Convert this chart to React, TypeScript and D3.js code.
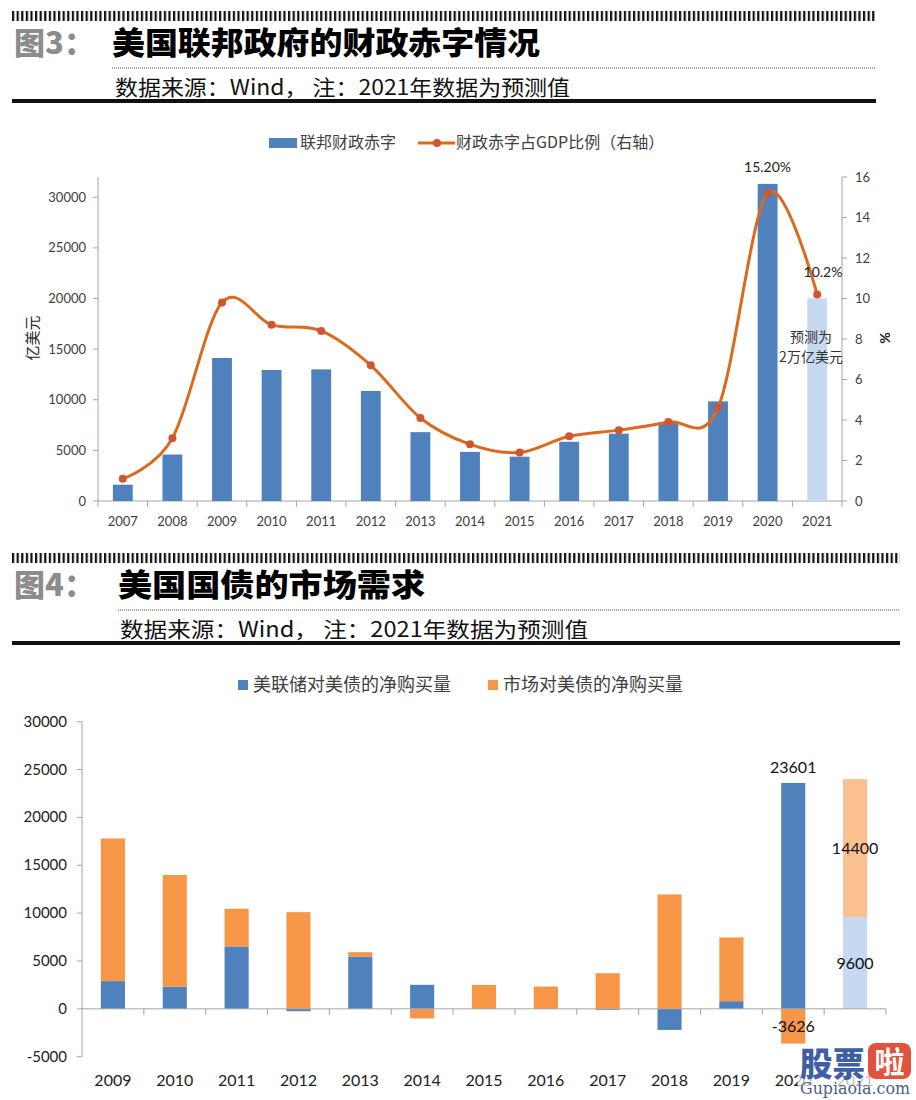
import React from "react";
import * as d3 from "d3";

// ---------- Chart 1 data ----------
const years1 = ["2007","2008","2009","2010","2011","2012","2013","2014","2015","2016","2017","2018","2019","2020","2021"];
const deficit = [1610, 4590, 14130, 12940, 13000, 10870, 6800, 4850, 4380, 5850, 6650, 7790, 9840, 31320, 20000];
const gdpRatio = [1.1, 3.1, 9.8, 8.7, 8.4, 6.7, 4.1, 2.8, 2.4, 3.2, 3.5, 3.9, 4.6, 15.2, 10.2];
const leftTicks1 = [0, 5000, 10000, 15000, 20000, 25000, 30000];
const rightTicks1 = [0, 2, 4, 6, 8, 10, 12, 14, 16];

// ---------- Chart 2 data ----------
const years2 = ["2009","2010","2011","2012","2013","2014","2015","2016","2017","2018","2019","2020","2021"];
const fedBuy = [2900, 2330, 6520, -250, 5470, 2510, 0, 0, -100, -2200, 800, 23601, 9600];
const marketBuy = [14900, 11650, 3940, 10100, 450, -1000, 2500, 2330, 3720, 11950, 6660, -3626, 14400];
const ticks2 = [-5000, 0, 5000, 10000, 15000, 20000, 25000, 30000];

const CJK = "'Noto Sans CJK SC', 'Noto Sans', sans-serif";
const NUM = "Lato, 'Open Sans', sans-serif";

const BLUE = "#4f81bd";
const LBLUE = "#c6d9f1";
const ORANGE = "#f79646";
const LORANGE = "#fac090";
const AXIS = "#a6a6a6";
const TXT = "#404040";

function Header({ y0, right, num, title, titleLen, titleX, subX, subLen }: any) {
  const pid = "hatch" + num;
  return (
    <g>
      <defs>
        <pattern id={pid} width={4.6} height={12} patternUnits="userSpaceOnUse" x={12}>
          <rect x={0} y={0} width={2.2} height={12} fill="#111" />
        </pattern>
      </defs>
      <rect x={12} y={y0} width={right - 12} height={10} fill={`url(#${pid})`} />
      <text x={14} y={y0 + 43} fontFamily={CJK} fontWeight={900} fontSize={31} fill="#8c8c8c">{`图${num}：`}</text>
      <text x={titleX} y={y0 + 43} fontFamily={CJK} fontWeight={900} fontSize={31} fill="#000"
        textLength={titleLen} lengthAdjust="spacingAndGlyphs">{title}</text>
      <line x1={titleX} x2={right} y1={y0 + 57} y2={y0 + 57} stroke="#555" strokeWidth={1} strokeDasharray="1 1" />
      <text x={subX} y={y0 + 84} fontFamily={CJK} fontWeight={400} fontSize={21} fill="#111"
        textLength={subLen} lengthAdjust="spacingAndGlyphs">数据来源：Wind， 注：2021年数据为预测值</text>
      <rect x={12} y={y0 + 88} width={right - 12} height={4} fill="#111" />
    </g>
  );
}

function Chart1() {
  const x = d3.scaleBand().domain(years1).range([98, 842]).padding(0);
  const yL = d3.scaleLinear().domain([0, 32000]).range([501, 177]);
  const yR = d3.scaleLinear().domain([0, 16]).range([501, 177]);
  const bw = x.bandwidth();
  const barW = bw * 0.4;
  const line = d3.line<number>()
    .x((_, i) => (x(years1[i]) as number) + bw / 2)
    .y((d) => yR(d))
    .curve(d3.curveCardinal.tension(0));
  const last = years1.length - 1;
  return (
    <g>
      {/* legend */}
      <rect x={269} y={138} width={28} height={10} fill={BLUE} />
      <text x={300} y={148} fontFamily={CJK} fontSize={16} fill={TXT}>联邦财政赤字</text>
      <line x1={418} x2={455} y1={143} y2={143} stroke="#db6a1f" strokeWidth={3} />
      <circle cx={437} cy={143} r={4} fill="#cf5630" />
      <text x={456} y={148} fontFamily={CJK} fontSize={16} fill={TXT}>财政赤字占GDP比例（右轴）</text>

      {/* axes */}
      <line x1={98} x2={98} y1={177} y2={501} stroke={AXIS} />
      <line x1={842} x2={842} y1={177} y2={501} stroke={AXIS} />
      <line x1={98} x2={842} y1={501} y2={501} stroke={AXIS} />
      {leftTicks1.map((t) => (
        <g key={"l" + t}>
          <line x1={93} x2={98} y1={yL(t)} y2={yL(t)} stroke={AXIS} />
          <text x={86} y={yL(t) + 4.5} textAnchor="end" fontFamily={NUM} fontSize={13} fill={TXT}>{t}</text>
        </g>
      ))}
      {rightTicks1.map((t) => (
        <g key={"r" + t}>
          <line x1={842} x2={847} y1={yR(t)} y2={yR(t)} stroke={AXIS} />
          <text x={855} y={yR(t) + 4.5} fontFamily={NUM} fontSize={13} fill={TXT}>{t}</text>
        </g>
      ))}
      {years1.map((yr) => (
        <line key={"t" + yr} x1={x(yr)} x2={x(yr)} y1={501} y2={507} stroke={AXIS} />
      ))}
      <line x1={842} x2={842} y1={501} y2={507} stroke={AXIS} />
      {years1.map((yr) => (
        <text key={"x" + yr} x={(x(yr) as number) + bw / 2} y={526} textAnchor="middle" fontFamily={NUM} fontSize={13} fill={TXT}>{yr}</text>
      ))}
      <text transform="translate(38,338) rotate(-90)" textAnchor="middle" fontFamily={CJK} fontSize={15} fill="#222">亿美元</text>
      <text transform="translate(880,338) rotate(90)" textAnchor="middle" fontFamily={NUM} fontWeight={700} fontSize={14} fill="#222">%</text>

      {/* bars */}
      {deficit.map((v, i) => (
        <rect key={"b" + i} x={(x(years1[i]) as number) + (bw - barW) / 2} y={yL(v)} width={barW}
          height={yL(0) - yL(v)} fill={i === last ? LBLUE : BLUE} />
      ))}
      {/* line */}
      <path d={line(gdpRatio) || ""} fill="none" stroke="#db6a1f" strokeWidth={3} />
      {gdpRatio.map((v, i) => (
        <circle key={"c" + i} cx={(x(years1[i]) as number) + bw / 2} cy={yR(v)} r={4} fill="#cf5630" />
      ))}
      {/* annotations */}
      <text x={(x("2020") as number) + bw / 2} y={172} textAnchor="middle" fontFamily={NUM} fontSize={14} fill="#222">15.20%</text>
      <text x={823} y={277} textAnchor="middle" fontFamily={NUM} fontSize={14} fill="#222">10.2%</text>
      <text x={811} y={342} textAnchor="middle" fontFamily={CJK} fontSize={14} fill="#333">预测为</text>
      <text x={811} y={362} textAnchor="middle" fontFamily={CJK} fontSize={14} fill="#333">2万亿美元</text>
    </g>
  );
}

function Chart2() {
  const x = d3.scaleBand().domain(years2).range([82, 886]).padding(0);
  const y = d3.scaleLinear().domain([-5000, 30000]).range([1056.7, 721.7]);
  const bw = x.bandwidth();
  const barW = bw * 0.39;
  const rows = years2.map((yr, i) => ({ year: yr, fed: fedBuy[i], market: marketBuy[i] }));
  const series = d3.stack<any>().keys(["fed", "market"]).offset(d3.stackOffsetDiverging)(rows);
  const last = years2.length - 1;
  const colors: any = { fed: [BLUE, LBLUE], market: [ORANGE, LORANGE] };
  const cx = (yr: string) => (x(yr) as number) + bw / 2;
  return (
    <g>
      {/* legend */}
      <rect x={238} y={680} width={10} height={10} fill={BLUE} />
      <text x={253} y={691} fontFamily={CJK} fontSize={18} fill={TXT}>美联储对美债的净购买量</text>
      <rect x={488} y={680} width={10} height={10} fill={ORANGE} />
      <text x={503} y={691} fontFamily={CJK} fontSize={18} fill={TXT}>市场对美债的净购买量</text>

      {/* axes */}
      <line x1={82} x2={82} y1={721.7} y2={1056.7} stroke={AXIS} />
      {ticks2.map((t) => (
        <g key={"t" + t}>
          <line x1={77} x2={82} y1={y(t)} y2={y(t)} stroke={AXIS} />
          <text x={67} y={y(t) + 5} textAnchor="end" fontFamily={NUM} fontSize={15} fill="#222">{t}</text>
        </g>
      ))}

      {/* bars */}
      {series.map((s) =>
        s.map((d, i) => {
          const y0 = Math.min(y(d[0]), y(d[1]));
          const h = Math.abs(y(d[0]) - y(d[1]));
          return (
            <rect key={s.key + i} x={cx(years2[i]) - barW / 2} y={y0} width={barW} height={h}
              fill={colors[s.key][i === last ? 1 : 0]} />
          );
        })
      )}

      <line x1={82} x2={886} y1={y(0)} y2={y(0)} stroke={AXIS} />
      {years2.map((yr) => (
        <line key={"k" + yr} x1={(x(yr) as number) + bw} x2={(x(yr) as number) + bw} y1={y(0)} y2={y(0) + 6} stroke={AXIS} />
      ))}
      {years2.map((yr) => (
        <text key={"x" + yr} x={cx(yr)} y={1086} textAnchor="middle" fontFamily={NUM} fontSize={16} fill="#222">{yr}</text>
      ))}

      {/* data labels */}
      <text x={cx("2020")} y={y(fedBuy[11]) - 10} textAnchor="middle" fontFamily={NUM} fontSize={16} fill="#111">{fedBuy[11]}</text>
      <text x={cx("2020")} y={1032} textAnchor="middle" fontFamily={NUM} fontSize={16} fill="#111">{marketBuy[11]}</text>
      <text x={cx("2021")} y={y(fedBuy[12] + marketBuy[12] / 2) + 6} textAnchor="middle" fontFamily={NUM} fontSize={16} fill="#111">{marketBuy[12]}</text>
      <text x={cx("2021")} y={y(fedBuy[12] / 2) + 6} textAnchor="middle" fontFamily={NUM} fontSize={16} fill="#111">{fedBuy[12]}</text>

      {/* watermark */}
      <rect x={798} y={1060} width={118} height={40} fill="#fff" opacity={0.7} />
      <text x={800} y={1076} fontFamily={CJK} fontWeight={900} fontSize={33} fill="#3e5fa3"
        textLength={65} lengthAdjust="spacingAndGlyphs">股票</text>
      <rect x={868} y={1043} width={43} height={36} rx={8} fill="#e2533d" />
      <text x={889.5} y={1073} textAnchor="middle" fontFamily={CJK} fontWeight={700} fontSize={30} fill="#fff">啦</text>
      <text x={800} y={1094} fontFamily="'DejaVu Serif', 'Liberation Serif', serif" fontSize={16} fill="#4a5d86"
        textLength={110} lengthAdjust="spacingAndGlyphs">Gupiaola.com</text>
    </g>
  );
}

export default function App() {
  return (
    <svg width={916} height={1100} style={{ position: "absolute", left: 0, top: 0, background: "#fff" }}>
      <rect x={0} y={0} width={916} height={1100} fill="#fff" />
      <Header y0={11} right={876} num={3} title="美国联邦政府的财政赤字情况" titleLen={428} titleX={112} subX={115} subLen={455} />
      <Chart1 />
      <Header y0={553} right={900} num={4} title="美国国债的市场需求" titleLen={307} titleX={118} subX={120} subLen={468} />
      <Chart2 />
    </svg>
  );
}
